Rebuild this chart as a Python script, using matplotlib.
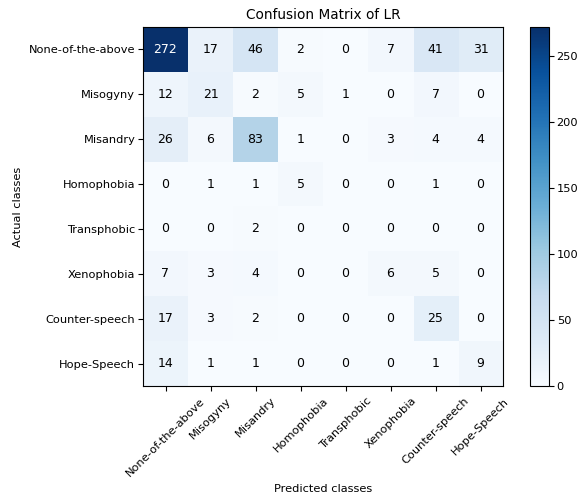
import numpy as np
import matplotlib
matplotlib.use("Agg")
import matplotlib.pyplot as plt

plt.rcParams["font.size"] = 8.2
plt.rcParams["ytick.major.pad"] = 2.0

# class names (rows = actual, cols = predicted)
classes = ["None-of-the-above", "Misogyny", "Misandry", "Homophobia",
           "Transphobic", "Xenophobia", "Counter-speech", "Hope-Speech"]

row_none = [272, 17, 46, 2, 0, 7, 41, 31]
row_misogyny = [12, 21, 2, 5, 1, 0, 7, 0]
row_misandry = [26, 6, 83, 1, 0, 3, 4, 4]
row_homophobia = [0, 1, 1, 5, 0, 0, 1, 0]
row_transphobic = [0, 0, 2, 0, 0, 0, 0, 0]
row_xenophobia = [7, 3, 4, 0, 0, 6, 5, 0]
row_counter = [17, 3, 2, 0, 0, 0, 25, 0]
row_hope = [14, 1, 1, 0, 0, 0, 1, 9]

cm = np.array([row_none, row_misogyny, row_misandry, row_homophobia,
               row_transphobic, row_xenophobia, row_counter, row_hope])

fig = plt.figure(figsize=(5.83, 4.93), dpi=100)
ax = fig.add_axes([143 / 583, 1 - 386 / 493, 360 / 583, 359 / 493])
cax = fig.add_axes([530 / 583, 1 - 386 / 493, 19 / 583, 359 / 493])

im = ax.imshow(cm, interpolation="nearest", cmap=plt.cm.Blues, aspect="auto")
ax.set_title("Confusion Matrix of LR", fontsize=9.8)
cb = fig.colorbar(im, cax=cax)
cb.set_ticks([0, 50, 100, 150, 200, 250])

ticks = np.arange(len(classes))
ax.set_xticks(ticks)
ax.set_xticklabels(classes, rotation=45)
ax.set_yticks(ticks)
ax.set_yticklabels(classes)

thresh = cm.max() / 2.
for i in range(cm.shape[0]):
    for j in range(cm.shape[1]):
        ax.text(j, i, format(cm[i, j], "d"), ha="center", va="center",
                fontsize=9, color="white" if cm[i, j] > thresh else "black")

ax.set_ylabel("Actual classes")
ax.set_xlabel("Predicted classes")

plt.savefig("out.png", dpi=100)
